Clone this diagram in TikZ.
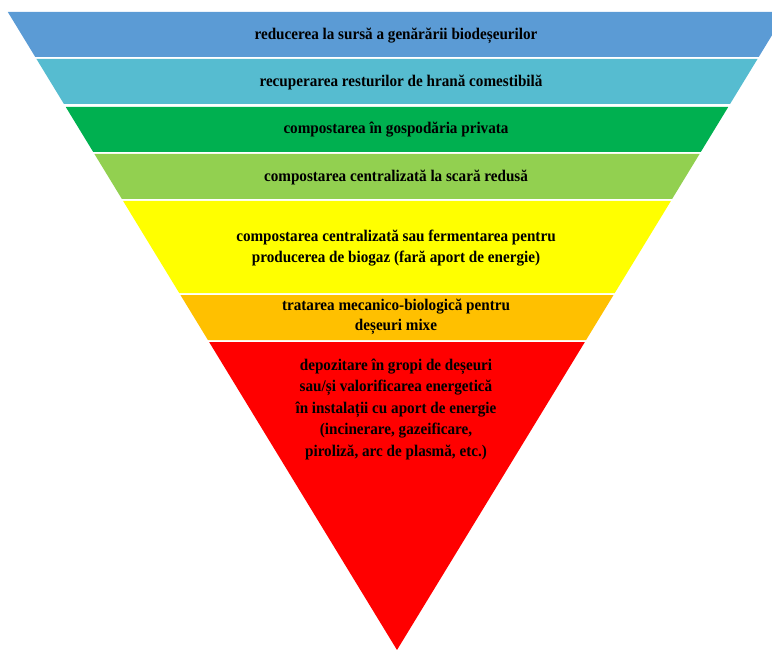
\documentclass[tikz,border=0pt]{standalone}
\usepackage{fontspec}
\setmainfont{Liberation Serif}[FakeStretch=0.93]
\definecolor{cBlue}{HTML}{5B9BD5}
\definecolor{cCyan}{HTML}{56BCD0}
\definecolor{cGreen}{HTML}{00B050}
\definecolor{cLime}{HTML}{92D050}
\definecolor{cYellow}{HTML}{FFFF00}
\definecolor{cOrange}{HTML}{FFC000}
\definecolor{cRed}{HTML}{FF0000}
\begin{document}
\begin{tikzpicture}[x=1pt,y=-1pt,
  bandtext/.style={font=\fontsize{16.3}{21.5}\selectfont\bfseries, align=center, text=black, inner sep=0pt}]
\useasboundingbox (0,0) rectangle (772,650);
\clip (0,0) rectangle (772,650);
\foreach \tp/\bt/\cl in {12/57/cBlue, 59/104/cCyan, 107/152/cGreen, 154/199/cLime, 201/293/cYellow, 295/340/cOrange}{
  \fill[\cl] ({397-0.61*(650-\tp)},\tp) -- ({397+0.61*(650-\tp)},\tp) -- ({397+0.61*(650-\bt)},\bt) -- ({397-0.61*(650-\bt)},\bt) -- cycle;
}
\fill[cRed] ({397-0.61*(650-342)},342) -- ({397+0.61*(650-342)},342) -- (397,650) -- cycle;
\node[bandtext] (t1) at (396,36) {reducerea la sursă a genărării biodeșeurilor};
\node[bandtext] (t2) at (401,82) {recuperarea resturilor de hrană comestibilă};
\node[bandtext] (t3) at (396,130) {compostarea în gospodăria privata};
\node[bandtext] (t4) at (396,177) {compostarea centralizată la scară redusă};
\node[bandtext] (t5) at (396,248) {compostarea centralizată sau fermentarea pentru\\producerea de biogaz (fară aport de energie)};
\node[bandtext, font=\fontsize{16.3}{19.5}\selectfont\bfseries] (t6) at (396,317) {tratarea mecanico-biologică pentru\\deșeuri mixe};
\node[bandtext] (t7) at (396,409) {depozitare în gropi de deșeuri\\sau/și valorificarea energetică\\în instalații cu aport de energie\\(incinerare, gazeificare,\\piroliză, arc de plasmă, etc.)};
\end{tikzpicture}
\end{document}
